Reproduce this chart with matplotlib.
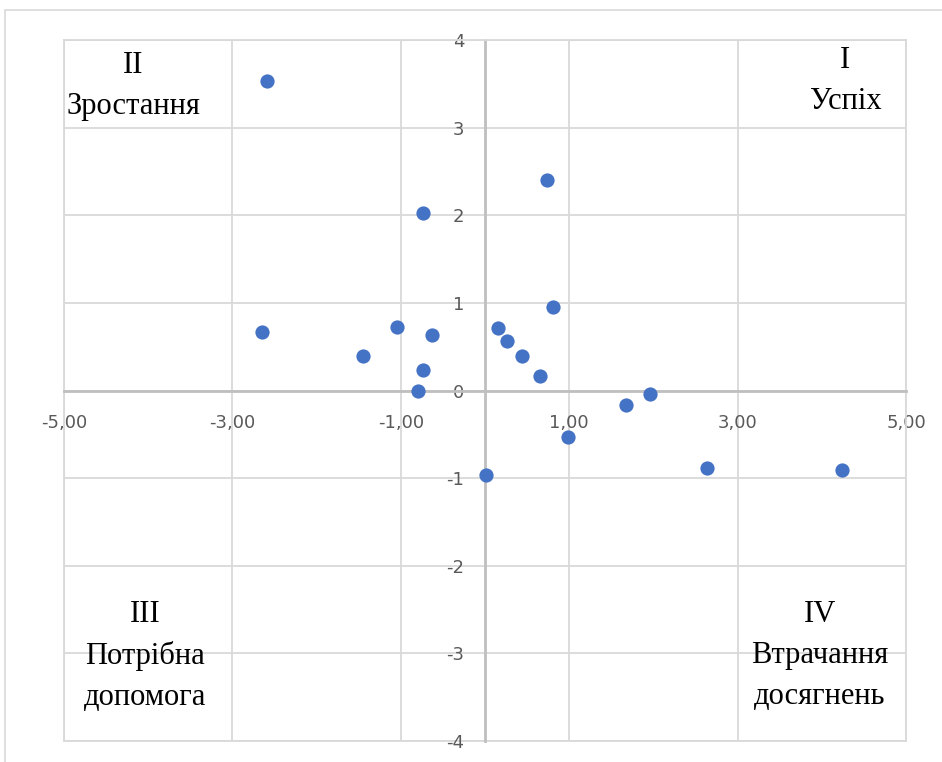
import matplotlib
matplotlib.use('Agg')
import matplotlib.pyplot as plt
from matplotlib.patches import Rectangle

# data
x_vals = [-2.59, 0.74, -0.74, 0.81, -2.65, -1.05, -0.63, 0.15, 0.26, -1.45,
          0.44, -0.74, 0.65, -0.80, 1.67, 1.96, 0.99, 0.01, 2.64, 4.24]
y_vals = [3.53, 2.40, 2.03, 0.95, 0.67, 0.72, 0.63, 0.71, 0.56, 0.39,
          0.39, 0.23, 0.17, 0.00, -0.16, -0.04, -0.53, -0.97, -0.88, -0.91]
x_ticks = [-5, -3, -1, 1, 3, 5]
y_ticks = [-4, -3, -2, -1, 0, 1, 2, 3, 4]
quadrants = ['I\nУспіх', 'II\nЗростання', 'III\nПотрібна\nдопомога', 'IV\nВтрачання\nдосягнень']
quad_pos = [(4.28, 3.53), (-4.18, 3.48), (-4.04, -3.03), (3.98, -3.02)]

fig = plt.figure(figsize=(9.42, 7.62), dpi=100)
ax = fig.add_axes([64 / 942, 21 / 762, 842 / 942, 701 / 762])

# outer chart frame
fig.patches.append(Rectangle((5 / 942, -0.1), 1.0, (752 / 762) + 0.1, transform=fig.transFigure,
                             fill=False, edgecolor='#D9D9D9', linewidth=1.2))

ax.scatter(x_vals, y_vals, s=105, color='#4472C4', zorder=3, linewidths=0)

ax.set_xlim(-5, 5)
ax.set_ylim(-4, 4)
ax.set_xticks(x_ticks)
ax.set_yticks(y_ticks)
ax.set_xticklabels([f'{v:.2f}'.replace('.', ',') for v in x_ticks])
ax.set_yticklabels([str(v) for v in y_ticks])
ax.grid(True, color='#D9D9D9', linewidth=1.3, zorder=0)
ax.set_axisbelow(True)

for s in ['top', 'right']:
    ax.spines[s].set_color('#D9D9D9')
    ax.spines[s].set_linewidth(1.3)
ax.spines['left'].set_position('zero')
ax.spines['bottom'].set_position('zero')
ax.spines['left'].set_color('#BFBFBF')
ax.spines['bottom'].set_color('#BFBFBF')
ax.spines['left'].set_linewidth(2)
ax.spines['bottom'].set_linewidth(2)
# grid line at the bottom edge and left edge
ax.axhline(-4, color='#D9D9D9', linewidth=1.3, zorder=0, clip_on=False)
ax.axvline(-5, color='#D9D9D9', linewidth=1.3, zorder=0, clip_on=False)

tick_font = ['Liberation Sans Narrow', 'DejaVu Sans']
ax.tick_params(axis='both', length=0, colors='#595959', labelsize=13)
ax.tick_params(axis='x', pad=17)
ax.tick_params(axis='y', pad=15)
for lab in ax.get_xticklabels() + ax.get_yticklabels():
    lab.set_family(tick_font)

for txt, (qx, qy) in zip(quadrants, quad_pos):
    ax.text(qx, qy, txt, ha='center', va='center', fontsize=22, linespacing=1.55,
            family=['Liberation Serif', 'DejaVu Serif'], color='black')

fig.savefig('out.png', dpi=100)
